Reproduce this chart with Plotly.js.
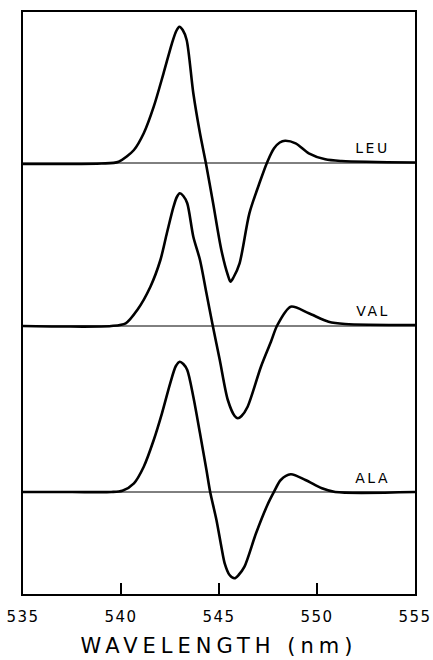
<!DOCTYPE html>
<html>
<head>
<meta charset="utf-8">
<script src="https://cdn.plot.ly/plotly-3.0.1.min.js"></script>
<style>
  html, body { margin: 0; padding: 0; background: #fff; }
  #chart { width: 433px; height: 660px; }
  #chart .xtitle { letter-spacing: 5px; }
  #chart .xtick text { letter-spacing: 1.5px; }
  #chart .annotation-text { letter-spacing: 2.5px; }
</style>
</head>
<body>
<div id="chart"></div>
<script>
// Wavelength (nm) and derivative-spectrum deflection (arbitrary units) for each amino acid
const seriesNames = ['LEU', 'VAL', 'ALA'];

const leuWavelength = [535, 537, 539, 539.88, 540.66, 541.16, 541.67, 542.17, 542.6, 542.82, 542.98, 543.15, 543.35, 543.69, 544.03, 544.33, 544.7, 545.12, 545.45, 545.59, 545.75, 546.05, 546.55, 547.06, 547.47, 547.81, 548.1, 548.37, 548.91, 549.58, 550.42, 551.26, 555];
const leuValues     = [-1, -1, -0.5, 1.3, 13, 29.7, 56.3, 89.7, 119.7, 132, 136.3, 133, 123, 69.7, 29.7, 0, -40.3, -87, -112, -118.7, -114, -100.3, -50.3, -20.3, 1.3, 14.7, 20.5, 22.3, 19.7, 9.7, 3.7, 2, 0.5];

const valWavelength = [535, 537, 539.5, 540.24, 540.83, 541.5, 542.01, 542.34, 542.68, 542.85, 543.0, 543.18, 543.38, 543.69, 544.03, 544.36, 544.68, 545.04, 545.45, 545.8, 545.96, 546.15, 546.46, 547.14, 547.65, 547.98, 548.66, 549.58, 550.59, 551.43, 555];
const valValues     = [0, -0.5, 0, 2.7, 16, 39.3, 66, 92.7, 119.3, 129, 132.7, 130, 122.7, 89.3, 66, 32.7, 0.5, -34, -74, -90, -92.3, -90, -80.7, -40.7, -15.7, 1, 19.3, 12.7, 4.3, 2, 1];

const alaWavelength = [535, 537.5, 539.5, 540.07, 540.66, 541.16, 541.67, 542.09, 542.51, 542.8, 543.0, 543.18, 543.38, 543.69, 544.03, 544.36, 544.55, 544.87, 545.12, 545.29, 545.54, 545.79, 546.0, 546.3, 546.89, 547.47, 547.81, 548.15, 548.66, 549.41, 550.25, 550.93, 555];
const alaValues     = [0, 0, 0, 1.3, 8.7, 25.3, 52, 78.7, 108.7, 126, 130.3, 128, 122, 95.3, 58.7, 22, 0, -28, -54.7, -71.3, -83, -86.3, -83, -74.7, -41.3, -13, 0.3, 12, 17.7, 12, 3.7, 0, 0];

const tickValues = [535, 540, 545, 550, 555];
const tickLabels = ['535', '540', '545', '550', '555'];

// vertical stacking of the three spectra (layout, not data)
const stackOffsets = [431, 268, 102];
const xSpan = [535, 555];

const allX = [leuWavelength, valWavelength, alaWavelength];
const allY = [leuValues, valValues, alaValues];

const traces = [];
seriesNames.forEach((name, i) => {
  const off = stackOffsets[i];
  traces.push({
    type: 'scatter', mode: 'lines', name: name + ' baseline',
    x: xSpan, y: [off, off],
    line: { color: '#000', width: 1 },
    hoverinfo: 'skip', showlegend: false
  });
  traces.push({
    type: 'scatter', mode: 'lines', name: name,
    x: allX[i], y: allY[i].map(v => v + off),
    line: { color: '#000', width: 2.6, shape: 'spline', smoothing: 0.8 },
    showlegend: false
  });
});

const annotations = seriesNames.map((name, i) => ({
  text: name, x: 552.85, y: stackOffsets[i] + 15 - (i === 2 ? 1 : 0),
  xref: 'x', yref: 'y', showarrow: false,
  font: { family: 'DejaVu Sans, sans-serif', size: 14, color: '#000' },
  xanchor: 'center', yanchor: 'middle'
}));

const layout = {
  width: 433, height: 660,
  margin: { l: 23, r: 18, t: 12, b: 66 },
  paper_bgcolor: '#fff', plot_bgcolor: '#fff',
  showlegend: false,
  xaxis: {
    range: [535, 555],
    tickmode: 'array', tickvals: tickValues, ticktext: tickLabels,
    ticks: 'inside', ticklen: 11, tickwidth: 1.3, tickcolor: '#000',
    showline: true, mirror: true, linecolor: '#000', linewidth: 1.6,
    showgrid: false, zeroline: false,
    ticklabelstandoff: 8,
    tickfont: { family: 'DejaVu Sans, sans-serif', size: 15, color: '#000' },
    title: { text: 'WAVELENGTH (nm)', standoff: 14,
             font: { family: 'DejaVu Sans, sans-serif', size: 21, color: '#000' } }
  },
  yaxis: {
    range: [0, 582],
    showticklabels: false, ticks: '',
    showline: true, mirror: true, linecolor: '#000', linewidth: 1.6,
    showgrid: false, zeroline: false
  },
  annotations: annotations
};

Plotly.newPlot('chart', traces, layout, { displayModeBar: false, staticPlot: true });
</script>
</body>
</html>
